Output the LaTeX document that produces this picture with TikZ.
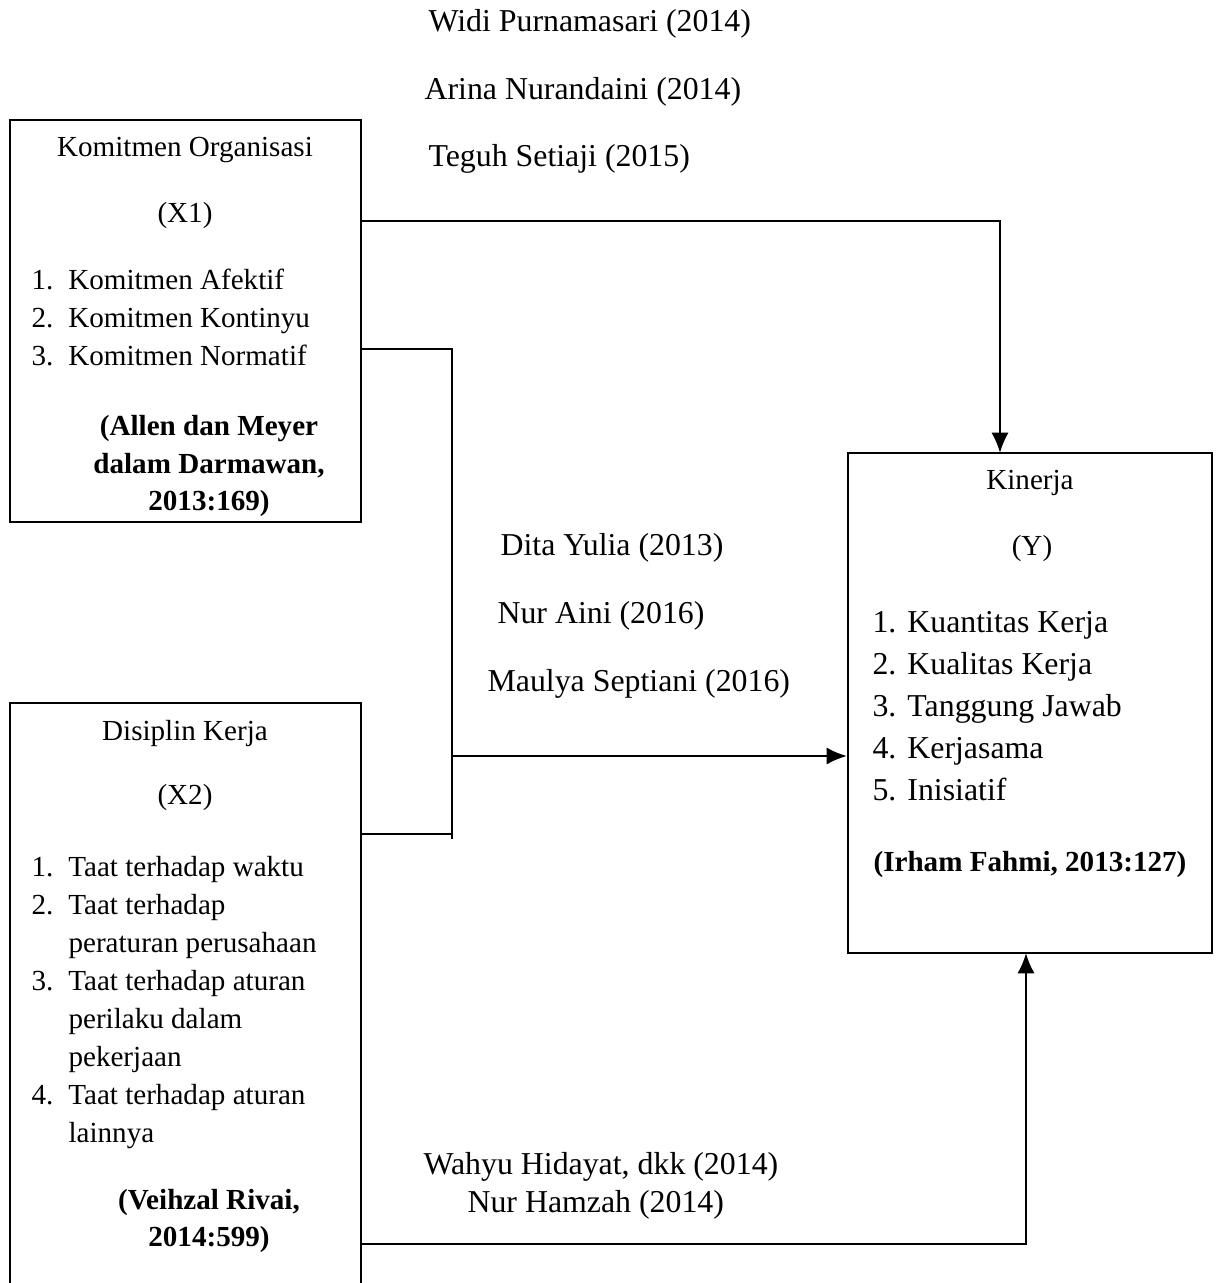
\documentclass[tikz,border=0pt]{standalone}
\usepackage{fontspec}
\setmainfont{Liberation Serif}
\usetikzlibrary{positioning,arrows.meta,calc}
\tikzset{
  arr/.style={-{Latex[length=2.6mm,width=2.2mm]},line width=0.8pt},
  link/.style={line width=0.8pt},
  varbox/.style={draw=black,line width=0.8pt,inner sep=0pt},
  lbl/.style={font=\fontsize{10.6}{13.8}\selectfont,inner sep=0pt},
  lblb/.style={font=\fontsize{10.6}{13.8}\selectfont\bfseries,inner sep=0pt,align=center},
  lblo/.style={font=\fontsize{11.6}{14}\selectfont,inner sep=0pt,anchor=base west},
  item/.style={lbl,anchor=base west}
}
\newcommand{\xnum}[1]{\makebox[13.4pt][l]{#1}}
\newcommand{\ynum}[1]{\makebox[12.7pt][l]{#1}}

\begin{document}
\begin{tikzpicture}[x=0.0128cm,y=-0.0128cm]
\useasboundingbox (0,0) rectangle (1218,1283);

% kotak variabel
\node[varbox, minimum width=4.493cm, minimum height=5.146cm] (x1) at (185.5,321) {};
\node[varbox, minimum width=4.493cm, minimum height=7.65cm] (x2) at (185.5,1002) {};
\node[varbox, minimum width=4.659cm, minimum height=6.4cm] (y) at (1030,703) {};

% X1
\node[lbl] (x1t) at (185,150) {Komitmen Organisasi};
\node[lbl] (x1s) at (185,215) {(X1)};
\node[item] (x1a) at (31,289) {\xnum{1.}Komitmen Afektif};
\node[item] (x1b) at (31,327) {\xnum{2.}Komitmen Kontinyu};
\node[item] (x1c) at (31,365) {\xnum{3.}Komitmen Normatif};
\node[lblb] (x1r) at (209,466) {(Allen dan Meyer\\ dalam Darmawan,\\ 2013:169)};

% X2
\node[lbl] (x2t) at (185,733) {Disiplin Kerja};
\node[lbl] (x2s) at (185,797) {(X2)};
\node[item] (x2a) at (31,876) {\xnum{1.}Taat terhadap waktu};
\node[item] (x2b) at (31,914) {\xnum{2.}Taat terhadap};
\node[item] (x2c) at (68,952) {peraturan perusahaan};
\node[item] (x2d) at (31,990) {\xnum{3.}Taat terhadap aturan};
\node[item] (x2e) at (68,1028) {perilaku dalam};
\node[item] (x2f) at (68,1066) {pekerjaan};
\node[item] (x2g) at (31,1104) {\xnum{4.}Taat terhadap aturan};
\node[item] (x2h) at (68,1142) {lainnya};
\node[lblb] (x2r) at (209,1221) {(Veihzal Rivai,\\ 2014:599)};

% Y
\node[lbl] (yt) at (1030,483) {Kinerja};
\node[lbl] (ys) at (1032,548) {(Y)};
\node[lblo] (ya) at (872,632) {\ynum{1.}Kuantitas Kerja};
\node[lblo] (yb) at (872,674) {\ynum{2.}Kualitas Kerja};
\node[lblo] (yc) at (872,716) {\ynum{3.}Tanggung Jawab};
\node[lblo] (yd) at (872,758) {\ynum{4.}Kerjasama};
\node[lblo] (ye) at (872,800) {\ynum{5.}Inisiatif};
\node[lblb] (yr) at (1030,864) {(Irham Fahmi, 2013:127)};

% peneliti terdahulu
\node[lblo] (p1) at (428,31) {Widi Purnamasari (2014)};
\node[lblo] (p2) at (424,99) {Arina Nurandaini (2014)};
\node[lblo] (p3) at (428,166) {Teguh Setiaji (2015)};
\node[lblo] (p4) at (500,555) {Dita Yulia (2013)};
\node[lblo] (p5) at (497,623) {Nur Aini (2016)};
\node[lblo] (p6) at (487,691) {Maulya Septiani (2016)};
\node[lblo] (p7) at (423,1174) {Wahyu Hidayat, dkk (2014)};
\node[lblo] (p8) at (467,1212) {Nur Hamzah (2014)};

% garis hubung
\coordinate (jn) at (452,756);
\draw[arr] (x1.east |- 0,221) -| (1000,453);
\draw[link] (x1.east |- 0,349) -| (452,839);
\draw[link] (x2.east |- 0,834) -- (452,834);
\draw[arr] (jn) -- (y.west |- jn);
\draw[arr] (x2.east |- 0,1244) -| (1026,953);
\end{tikzpicture}
\end{document}
